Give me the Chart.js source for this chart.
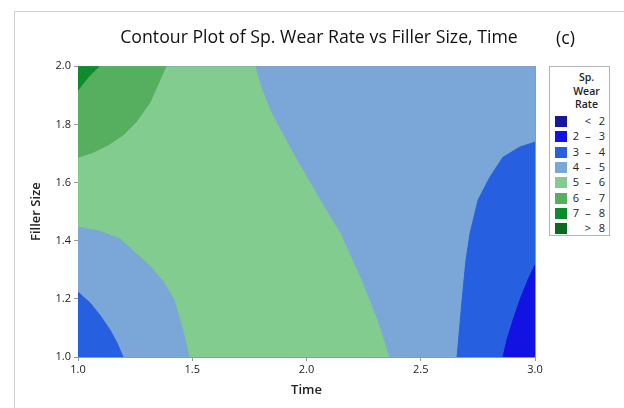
<!DOCTYPE html>
<html>
<head>
<meta charset="utf-8">
<script src="https://cdn.jsdelivr.net/npm/chart.js@4.4.1/dist/chart.umd.min.js"></script>
<style>
  html, body { margin: 0; padding: 0; background: #fff; }
  body { width: 624px; height: 408px; position: relative; overflow: hidden; font-family: "Open Sans", sans-serif; color: #222; }
  #frame { position: absolute; left: 14px; top: 11px; width: 700px; height: 500px; border-left: 1px solid #d2d2d2; border-top: 1px solid #d2d2d2; }
  #chart { position: absolute; left: 0; top: 0; }
  #tag { position: absolute; left: 556px; top: 25px; font-size: 17.7px; font-weight: 500; color: #111; }
  #legend { position: absolute; left: 549px; top: 66px; width: 61px; height: 170px; border: 1px solid #b4b4b4; box-sizing: border-box; background: #fff; }
  #legend .head { text-align: center; font-size: 10.5px; font-weight: 600; line-height: 13.5px; padding-top: 4px; padding-left: 14px; color: #222; }
  #legend .row { position: absolute; left: 0; width: 100%; height: 11px; }
  #legend .sw { position: absolute; left: 5px; top: 0; width: 12px; height: 11px; }
  #legend .c { position: absolute; top: -2px; width: 12px; margin-left: -6px; text-align: center; font-size: 11px; line-height: 14px; }
</style>
</head>
<body>
<div id="frame"></div>
<canvas id="chart" width="624" height="408"></canvas>
<div id="tag">(c)</div>
<div id="legend"></div>
<script>
// axis ticks
const timeTicks = [1.0, 1.5, 2.0, 2.5, 3.0];
const sizeTicks = [1.0, 1.2, 1.4, 1.6, 1.8, 2.0];

// legend levels (Sp. Wear Rate)
const levelLabels = ["< 2", "2 \u2013 3", "3 \u2013 4", "4 \u2013 5", "5 \u2013 6", "6 \u2013 7", "7 \u2013 8", "> 8"];
const levelColors = ["#1616a2", "#1212e2", "#2660e0", "#7ba6d8", "#81cc8e", "#55af5e", "#0f8a2c", "#0a6a1e"];

// contour boundaries, [Time, Filler Size]
const edge56LowerLeft = [[1.0, 1.450], [1.096, 1.436], [1.184, 1.409], [1.241, 1.368], [1.315, 1.316],
  [1.372, 1.265], [1.425, 1.196], [1.446, 1.137], [1.468, 1.076], [1.490, 1.0]];
const edge56Right = [[1.775, 2.0], [1.800, 1.930], [1.840, 1.849], [1.900, 1.760], [1.958, 1.677],
  [2.059, 1.540], [2.147, 1.426], [2.190, 1.350], [2.234, 1.275], [2.309, 1.127], [2.361, 1.0]];
const edge67 = [[1.385, 2.0], [1.354, 1.945], [1.315, 1.876], [1.254, 1.808], [1.197, 1.763],
  [1.131, 1.729], [1.066, 1.704], [1.0, 1.687]];
const edge78 = [[1.092, 2.0], [1.044, 1.962], [1.0, 1.918]];
const edge34Left = [[1.0, 1.223], [1.053, 1.186], [1.096, 1.144], [1.140, 1.093], [1.171, 1.048], [1.197, 1.0]];
const edge34Right = [[3.0, 1.739], [2.934, 1.722], [2.860, 1.687], [2.803, 1.619], [2.751, 1.540],
  [2.716, 1.426], [2.698, 1.333], [2.681, 1.196], [2.659, 1.0]];
const edge23 = [[3.0, 1.316], [2.969, 1.265], [2.934, 1.196], [2.904, 1.127], [2.877, 1.058], [2.860, 1.0]];

const toXY = pts => pts.map(p => ({ x: p[0], y: p[1] }));

// regions from bottom layer to top layer
const regions = [
  { level: 3, pts: [[1.0, 1.0], [3.0, 1.0], [3.0, 2.0], [1.0, 2.0]] },
  { level: 4, pts: [[1.0, 2.0]].concat(edge56LowerLeft, edge56Right.slice().reverse()) },
  { level: 5, pts: [[1.0, 2.0]].concat(edge67) },
  { level: 6, pts: [[1.0, 2.0]].concat(edge78) },
  { level: 2, pts: [[1.0, 1.0]].concat(edge34Left) },
  { level: 2, pts: [[3.0, 1.0]].concat(edge34Right) },
  { level: 1, pts: [[3.0, 1.0]].concat(edge23) }
];

const datasets = regions.map((r, i) => ({
  label: levelLabels[r.level],
  data: toXY(r.pts),
  backgroundColor: levelColors[r.level],
  borderColor: levelColors[r.level],
  borderWidth: 1,
  pointRadius: 0,
  tension: 0,
  fill: 'shape',
  order: regions.length - i
}));

const fontFamily = '"Open Sans", sans-serif';
const tickFmt = v => Number(v).toFixed(1);

const chart = new Chart(document.getElementById('chart'), {
  type: 'line',
  data: { datasets: datasets },
  options: {
    responsive: false,
    animation: false,
    events: [],
    layout: { padding: { left: 14, right: 0, top: 0, bottom: 0 } },
    plugins: {
      legend: { display: false },
      tooltip: { enabled: false },
      title: {
        display: true,
        text: 'Contour Plot of Sp. Wear Rate vs Filler Size, Time',
        color: '#111',
        font: { family: fontFamily, size: 17.7, weight: '500' },
        padding: { top: 27, bottom: 18 }
      }
    },
    scales: {
      x: {
        type: 'linear', position: 'bottom', min: 1, max: 3,
        afterBuildTicks: s => { s.ticks = timeTicks.map(v => ({ value: v })); },
        afterFit: s => { s.height = 51; },
        ticks: { callback: tickFmt, color: '#222', font: { family: fontFamily, size: 11 }, padding: 2, maxRotation: 0, autoSkip: false },
        grid: { drawOnChartArea: false, tickLength: 4, color: '#999' },
        border: { color: '#999' },
        title: { display: true, text: 'Time', color: '#222', font: { family: fontFamily, size: 13, weight: '600' }, padding: { top: 0, bottom: 10 } }
      },
      y: {
        type: 'linear', position: 'left', min: 1, max: 2,
        afterBuildTicks: s => { s.ticks = sizeTicks.map(v => ({ value: v })); },
        afterFit: s => { s.width = 64; },
        ticks: { callback: tickFmt, color: '#222', font: { family: fontFamily, size: 11 }, padding: 3, autoSkip: false },
        grid: { drawOnChartArea: false, tickLength: 4, color: '#999' },
        border: { color: '#999' },
        title: { display: true, text: 'Filler Size', color: '#222', font: { family: fontFamily, size: 13, weight: '600' }, padding: { top: 14, bottom: 0 } }
      },
      x2: {
        type: 'linear', position: 'top', min: 0, max: 1,
        afterFit: s => { s.height = 0; },
        ticks: { display: false }, grid: { display: false }, border: { color: '#999' }
      },
      y2: {
        type: 'linear', position: 'right', min: 0, max: 1,
        afterFit: s => { s.width = 89; },
        ticks: { display: false }, grid: { display: false }, border: { color: '#999' }
      }
    }
  }
});

// legend box: swatch, then the label split into three columns
const legend = document.getElementById('legend');
const cols = [26, 38, 52];
const esc = s => s.replace('<', '&lt;').replace('>', '&gt;');
let html = '<div class="head">Sp.<br>Wear<br>Rate</div>';
levelLabels.forEach((lab, i) => {
  let parts = lab.split(' ');
  if (parts.length === 2) parts = [''].concat(parts);
  html += '<div class="row" style="top:' + (49 + i * 15.3) + 'px"><div class="sw" style="background:' + levelColors[i] + '"></div>';
  parts.forEach((p, k) => {
    html += '<div class="c" style="left:' + cols[k] + 'px">' + esc(p) + '</div>';
  });
  html += '</div>';
});
legend.innerHTML = html;
</script>
</body>
</html>
